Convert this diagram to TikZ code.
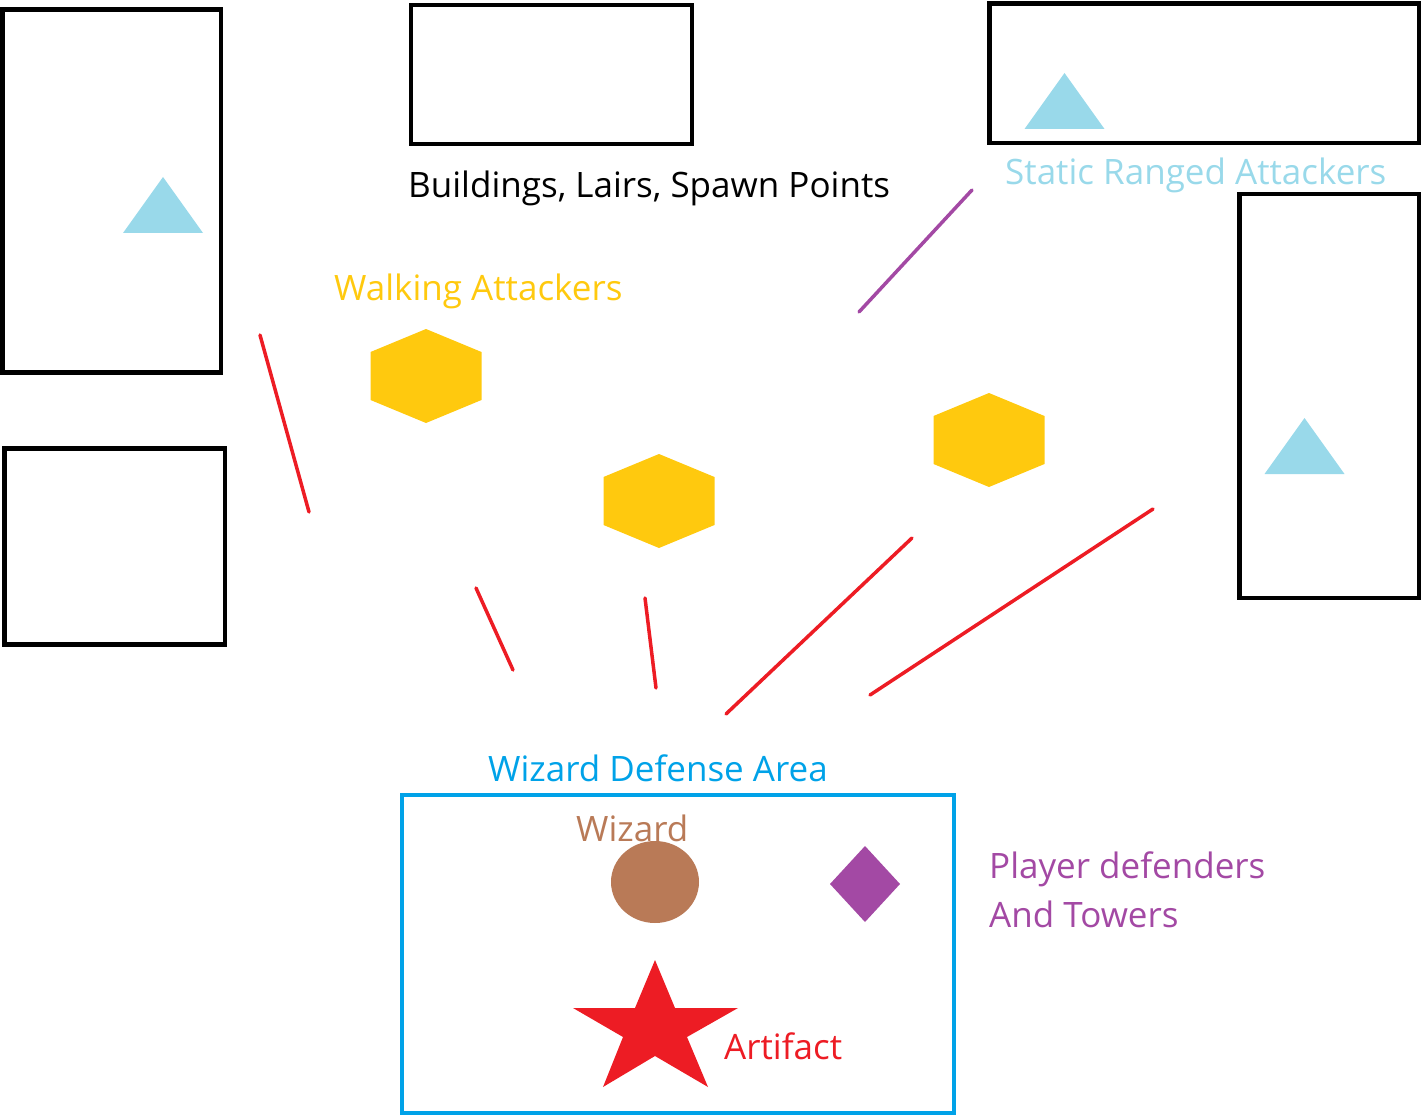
\documentclass[tikz,border=0pt]{standalone}
\usepackage{fontspec}
\setmainfont{Open Sans}
\definecolor{gold}{HTML}{FFC90E}
\definecolor{turq}{HTML}{99D9EA}
\definecolor{sky}{HTML}{00A2E8}
\definecolor{brn}{HTML}{B97A57}
\definecolor{plum}{HTML}{A349A4}
\definecolor{rd}{HTML}{ED1C24}
\tikzset{
  bldg/.style={line width=4.5pt},
  path/.style={rd, line width=3.5pt, line cap=round},
  lbl/.style={anchor=base west, inner sep=0pt, font=\fontsize{35}{42}\selectfont},
}
\begin{document}
\begin{tikzpicture}[x=1pt,y=-1pt]
  \useasboundingbox (0,0) rectangle (1422,1118);
  \draw[bldg] (2.5,9.5) rectangle (221,372.5);
  \draw[bldg] (411,5) rectangle (692,144);
  \draw[bldg] (989.5,3.5) rectangle (1419,143);
  \draw[bldg] (1239.5,194) rectangle (1419,598);
  \draw[bldg] (4.5,448.5) rectangle (225,644.5);

  \foreach \x/\y in {163/177, 1064.5/73, 1304.5/418}
    \fill[turq] (\x,\y) -- +(40,56) -- +(-40,56) -- cycle;
  \foreach \x/\y in {426/376, 659/501, 989/440}
    \fill[gold] (\x,\y) +(0,-47) -- +(55.5,-24) -- +(55.5,24) -- +(0,47) -- +(-55.5,24) -- +(-55.5,-24) -- cycle;

  \draw[path] (260,335) -- (309,512);
  \draw[path] (476,588) -- (513,670);
  \draw[path] (645,598) -- (656,688);
  \draw[path] (912,538) -- (726,714);
  \draw[path] (1153,509) -- (870,695);
  \draw[plum, line width=3.5pt, line cap=round] (972,190) -- (859,312);

  \draw[sky, line width=4pt] (402,794.5) rectangle (954,1113);
  \fill[brn] (655,882) ellipse[x radius=44, y radius=41];
  \fill[plum] (865,846) -- (900,884) -- (865,922) -- (830,884) -- cycle;
  \fill[rd] (655,960) -- (675,1008) -- (738,1008) -- (687,1037) -- (708,1087)
    -- (655,1056) -- (603,1087) -- (623,1037) -- (573,1008) -- (635,1008) -- cycle;

  \node[lbl] (bldgs) at (408,198) {Buildings, Lairs, Spawn Points};
  \node[lbl, gold] (walk) at (334,301) {Walking Attackers};
  \node[lbl, turq] (ranged) at (1005,185) {Static Ranged Attackers};
  \node[lbl, sky] (area) at (488,781) {Wizard Defense Area};
  \node[lbl, brn] (wiz) at (576,841) {Wizard};
  \node[lbl, plum] (def) at (989,878) {Player defenders};
  \node[lbl, plum] (tow) at (989,927) {And Towers};
  \node[lbl, rd] (art) at (724,1059) {Artifact};
\end{tikzpicture}
\end{document}
